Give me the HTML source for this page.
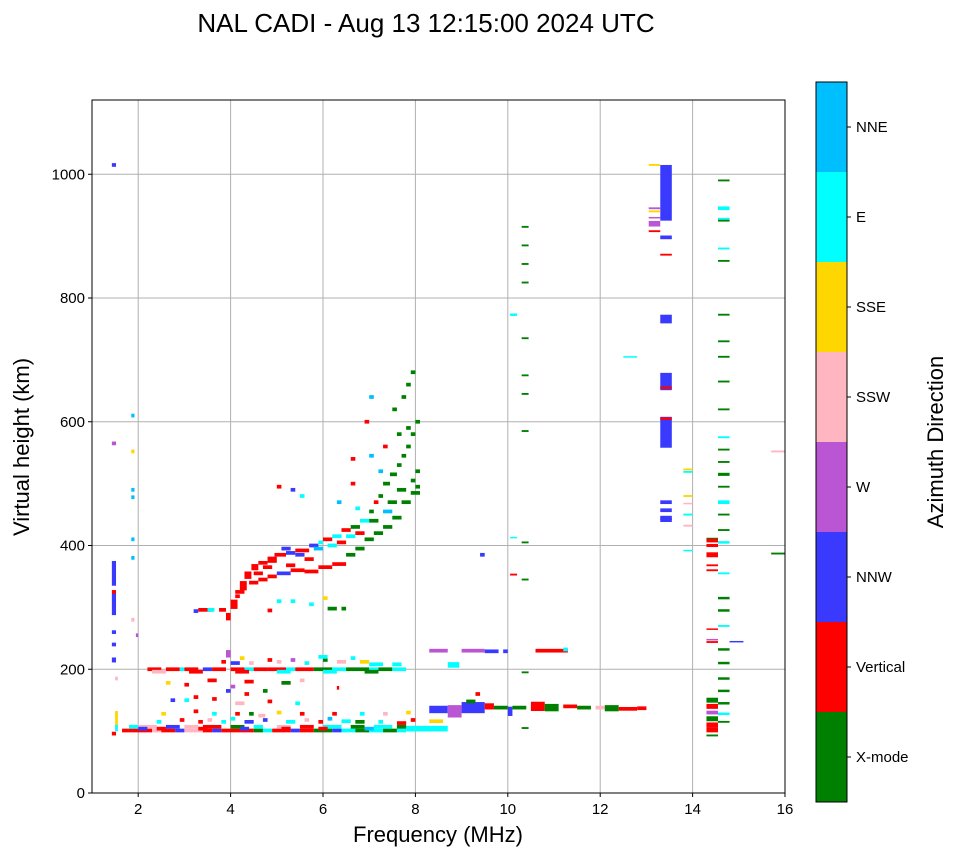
<!DOCTYPE html>
<html><head><meta charset="utf-8"><style>
html,body{margin:0;padding:0;background:#fff;}
svg{display:block;font-family:"Liberation Sans",sans-serif;}
</style></head><body>
<svg id="chart" width="958" height="857" viewBox="0 0 958 857" xmlns="http://www.w3.org/2000/svg">
<text x="426" y="32" font-size="26" text-anchor="middle">NAL CADI - Aug 13 12:15:00 2024 UTC</text>
<g id="grid"></g>
<g id="cells"></g>
<rect x="92" y="100" width="693" height="693" fill="none" stroke="#000" stroke-width="1"/>
<g id="axes"></g>
<text x="438" y="842" font-size="22" text-anchor="middle">Frequency (MHz)</text>
<text transform="translate(29,447) rotate(-90)" font-size="22" text-anchor="middle">Virtual height (km)</text>
<g id="cbar"></g>
<text transform="translate(943,442) rotate(-90)" font-size="22" text-anchor="middle">Azimuth Direction</text>
</svg>
<script>
const directions = ["X-mode","Vertical","NNW","W","SSW","SSE","E","NNE"];
const dirColors = ["#008000","#ff0000","#3a3aff","#ba55d3","#ffb6c1","#ffd700","#00ffff","#00bfff"];
const xTicks = [2,4,6,8,10,12,14,16];
const yTicks = [0,200,400,600,800,1000];
// runs: [freqStart, freqEnd, height km, direction index, thickness km (optional)]
const runs = [
[1.65,1.8,101,1],[1.8,2.3,101,1],[2.3,2.5,101,4],[2.5,2.8,101,1],[2.8,3.0,101,2],[3.0,3.4,101,4],[3.4,3.6,101,1],[3.6,3.8,101,2],[3.8,4.5,101,1],[4.5,4.7,101,0],[4.7,4.9,101,6],[4.9,5.3,101,1],[5.3,5.5,101,2],[5.5,5.8,101,1],[5.8,6.2,101,0],[6.2,6.4,101,2],[6.4,6.7,101,6],[6.7,7.0,101,0],[7.0,7.3,101,6],[7.3,7.6,101,0],[7.6,7.8,101,6],[7.8,8.7,104,6,9],
[1.8,2.0,107,6],[2.0,2.4,107,4],[2.6,2.9,107,2],[3.0,3.3,107,4],[3.4,3.8,107,1],[4.0,4.3,107,0],[4.5,4.7,107,6],[5.0,5.3,107,4],[5.5,5.8,107,1],[6.0,6.4,107,6],[6.6,6.9,107,0],[7.1,7.5,107,6],[7.6,7.8,107,0],
[2.0,2.2,104,2],[2.4,2.6,104,1],[3.3,3.5,104,1],[4.2,4.4,104,2],[5.1,5.3,104,1],[5.9,6.1,104,1],[6.9,7.1,104,7],
[2.4,2.5,115,6],[3.3,3.4,115,1],[3.8,3.9,115,6],[4.3,4.5,115,2],[5.2,5.4,115,6],[5.9,6.0,115,1],[6.4,6.6,116,6],[6.7,6.9,115,0],[7.2,7.3,115,6],[7.6,7.8,113,1],[8.3,8.6,116,5],
[2.9,3.0,118,1],[3.5,3.6,118,4],[4.0,4.1,120,6],[4.7,4.8,118,2],[5.6,5.7,118,4],[6.1,6.2,120,7],[7.9,8.0,118,1],
[2.5,2.6,128,5],[3.2,3.3,132,1],[3.6,3.7,128,6],[4.1,4.2,128,1],[4.4,4.5,128,0],[5.0,5.1,130,5],[5.5,5.6,128,1],[6.2,6.3,128,1],[7.8,7.9,130,5],[7.3,7.4,128,4],[6.8,6.9,128,6],[4.6,4.75,125,4],
[3.0,3.1,150,6],[3.6,3.7,152,1],[4.1,4.3,145,4],[4.8,4.9,148,1],[5.4,5.5,145,6],[2.7,2.8,150,2],[3.9,4.0,165,2],[4.3,4.4,160,1],[4.7,4.8,165,0],[3.2,3.3,155,1],
[2.6,2.7,178,5],[3.0,3.1,175,1],[3.5,3.7,182,1],[4.3,4.5,180,1],[4.0,4.1,172,3],[5.1,5.3,178,0],[6.3,6.35,170,1],[5.5,5.6,182,4],
[2.2,2.5,200,1],[2.6,2.9,200,1],[2.9,3.0,200,6],[3.0,3.3,200,1],[3.4,3.6,200,2],[3.6,3.9,200,1],[4.0,4.3,200,1],[4.3,4.5,200,6],[4.5,4.8,200,1],[4.8,5.2,200,1],[5.2,5.4,200,6],[5.4,5.8,200,1],[5.8,6.2,200,0],[6.2,6.5,200,6],[6.5,7.0,200,0],[7.0,7.2,200,6],[7.2,7.5,200,0],[7.5,7.8,200,6],
[2.3,2.6,196,4],[3.1,3.4,196,1],[4.1,4.4,196,1],[5.0,5.3,196,6],[6.0,6.3,196,6],[6.9,7.2,196,0],
[3.8,3.9,212,1],[4.0,4.2,210,2],[4.4,4.5,210,4],[4.8,4.9,215,1],[5.0,5.1,212,4],[5.3,5.4,215,3],[5.6,5.7,210,6],[6.0,6.1,215,0],[6.3,6.5,212,4],[6.8,7.0,212,5],[7.0,7.3,208,6],[7.5,7.7,208,6],[5.9,6.1,220,6],[6.6,6.7,218,6],[4.2,4.3,218,5],[3.9,4.0,225,3,12],
[3.3,3.6,296,1],[3.2,3.3,294,2],[3.5,3.65,296,6],[3.75,3.9,296,1],[3.9,4.0,285,1,12],[4.0,4.15,305,1,15],[4.1,4.2,318,1],[4.2,4.35,335,1,15],[4.3,4.45,352,1,12],[4.45,4.6,365,1,10],[4.6,4.8,372,1],[4.8,5.0,377,1,10],[4.95,5.2,385,1],[5.2,5.4,388,2],[5.4,5.7,392,1],[5.7,5.9,400,2],[5.9,6.0,405,6],[6.0,6.2,410,1],[6.2,6.4,415,6],[6.4,6.6,425,1],[6.6,6.8,430,0],[6.8,7.0,440,6],[7.0,7.1,455,0],[7.1,7.2,470,1],[7.2,7.3,480,0],[7.3,7.45,500,0],[7.45,7.6,515,0],[7.6,7.7,530,0],[7.7,7.8,545,0],[7.8,7.9,560,0],[7.9,8.0,580,0],[8.0,8.1,600,0],[8.0,8.1,520,0],[8.0,8.1,495,0],[7.9,8.0,505,0],
[4.4,4.6,340,1],[4.6,4.8,345,1],[4.8,5.0,350,1],[5.0,5.3,355,2],[5.3,5.6,360,1],[5.6,5.9,358,1],[5.9,6.2,365,1],[6.2,6.5,370,1],[6.5,6.7,385,0],[6.7,6.9,395,0],[6.9,7.1,410,0],[7.1,7.3,420,0],[7.3,7.5,430,0],[7.5,7.7,445,0],[7.7,7.9,470,0],[7.9,8.1,485,0],
[5.1,5.3,395,2],[5.4,5.6,385,2],[5.6,5.8,378,1],[5.8,6.0,395,7],[6.1,6.3,400,6],[6.3,6.5,405,1],[6.5,6.7,415,6],[6.7,6.9,420,1],[4.7,4.9,365,1],[4.5,4.7,355,1],[5.2,5.4,368,1],[4.1,4.3,325,1],[7.0,7.2,440,0],[7.4,7.6,470,0],[7.6,7.8,490,0],[7.3,7.5,455,7],
[5.0,5.1,495,1],[5.3,5.4,490,2],[5.5,5.6,480,6],[6.3,6.4,470,7],[6.6,6.7,500,1],[6.7,6.8,460,6],[7.0,7.1,545,7],[7.3,7.4,560,1],[7.5,7.6,620,0],[7.7,7.8,640,0],[7.8,7.9,660,0],[7.9,8.0,680,0],[6.9,7.0,600,1],[7.0,7.1,640,7],[6.6,6.7,540,1],[7.2,7.3,520,7],[7.6,7.7,580,0],[7.8,7.9,590,0],
[5.0,5.1,310,6],[5.3,5.4,310,6],[5.7,5.8,305,6],[6.1,6.3,298,0],[6.4,6.5,298,0],[4.8,4.9,295,1],[6.0,6.1,315,5],
[1.43,1.52,355,2,40],[1.43,1.52,305,2,35],[1.43,1.52,325,1],[1.43,1.52,260,2],[1.43,1.52,240,2],[1.43,1.52,215,2,8],[1.43,1.52,565,3],[1.43,1.52,1015,2],[1.43,1.52,96,1],[1.5,1.56,120,5,25],[1.5,1.56,105,6,10],[1.5,1.56,185,4],
[1.85,1.92,610,7],[1.85,1.92,490,7],[1.85,1.92,478,7],[1.85,1.92,380,7],[1.85,1.92,280,4],[1.85,1.92,552,5],[1.85,1.92,410,7],[1.95,2.0,255,3],
[8.3,8.7,230,3],[8.7,8.95,207,6,9],[9.0,9.5,230,3],[9.5,9.8,229,2],[9.9,10.0,229,2],[10.6,11.0,230,1],[11.0,11.3,230,1],[11.2,11.3,232,6],[9.4,9.5,385,2],
[8.3,8.7,135,2,12],[8.7,9.0,132,3,20],[9.0,9.5,138,2,18],[9.5,9.7,140,1,10],[9.7,10.0,138,0],[10.0,10.1,132,2,15],[10.1,10.4,138,0],[10.5,10.8,140,1,15],[10.8,11.1,138,0,12],[11.2,11.5,140,1],[11.5,11.8,138,0],[11.9,12.1,138,4],[12.1,12.4,137,0,10],[12.4,12.8,136,1],[12.8,13.0,137,1],[9.3,9.4,160,1],[9.1,9.3,148,0],
[10.3,10.45,915,0,3],[10.3,10.45,885,0,3],[10.3,10.45,855,0,3],[10.3,10.45,825,0,3],[10.3,10.45,735,0,3],[10.3,10.45,675,0,3],[10.3,10.45,645,0,3],[10.3,10.45,585,0,3],[10.3,10.45,405,0,3],[10.3,10.45,345,0,3],[10.3,10.45,195,0,3],[10.3,10.45,105,0,3],
[10.05,10.2,773,6,4],[10.05,10.2,413,6,2],[10.05,10.2,353,1,3],[12.5,12.8,705,6,2],
[13.3,13.55,970,2,90],[13.3,13.55,898,2,6],[13.3,13.55,870,1,3],[13.3,13.55,766,2,14],[13.3,13.55,665,2,28],[13.3,13.55,655,1,4],[13.3,13.55,583,2,50],[13.3,13.55,605,1,4],[13.3,13.55,470,2,6],[13.3,13.55,457,2,6],[13.3,13.55,443,2,10],[13.3,13.55,443,2,4],
[13.05,13.3,1015,5,3],[13.05,13.3,945,3,3],[13.05,13.3,940,5,3],[13.05,13.3,930,3,2],[13.05,13.3,920,3,9],[13.05,13.3,908,1,3],
[13.8,14.0,523,5,3],[13.8,14.0,519,6,3],[13.8,14.0,480,5,3],[13.8,14.0,468,4,2],[13.8,14.0,450,6,3],[13.8,14.0,432,4,3],[13.8,14.0,392,6,2],
[14.3,14.55,410,0,5],[14.3,14.55,400,1,5],[14.3,14.55,385,1,8],[14.3,14.55,368,1,3],[14.3,14.55,360,1,3],[14.3,14.55,408,1,6],[14.3,14.55,265,1,2],[14.3,14.55,248,3,2],[14.3,14.55,244,1,3],[14.3,14.55,150,0,8],[14.3,14.55,140,1,8],[14.3,14.55,130,3,6],[14.3,14.55,120,0,8],[14.3,14.55,110,1,8],[14.3,14.55,93,0,3],[14.3,14.55,102,1,8],
[14.55,14.8,990,0,3],[14.55,14.8,945,6,6],[14.55,14.8,928,6,3],[14.55,14.8,925,0,3],[14.55,14.8,880,6,3],[14.55,14.8,860,0,3],[14.55,14.8,773,0,3],[14.55,14.8,730,0,3],[14.55,14.8,705,0,3],[14.55,14.8,665,0,3],[14.55,14.8,620,0,3],[14.55,14.8,575,6,3],[14.55,14.8,555,0,3],[14.55,14.8,535,0,3],[14.55,14.8,515,0,5],[14.55,14.8,495,0,3],[14.55,14.8,470,6,6],[14.55,14.8,450,0,3],[14.55,14.8,425,0,3],[14.55,14.8,405,6,4],[14.55,14.8,355,6,3],[14.55,14.8,315,0,4],[14.55,14.8,295,0,4],[14.55,14.8,270,6,3],[14.55,14.8,232,0,4],[14.55,14.8,210,0,4],[14.55,14.8,185,0,4],[14.55,14.8,165,0,4],[14.55,14.8,145,0,4],[14.55,14.8,128,6,4],[14.55,14.8,115,0,3],
[14.8,15.1,245,2,1.5],[15.7,16.0,552,4,3],[15.7,16.0,387,0,3]
];
const svgNS="http://www.w3.org/2000/svg";
const X0=92,X1=785,Y0=793,Y1=100;
function xS(f){return X0+(f-1)*(X1-X0)/15;}
function yS(h){return Y0-h*(Y0-Y1)/1120;}
function mk(tag,attrs,parent){const e=document.createElementNS(svgNS,tag);for(const k in attrs)e.setAttribute(k,attrs[k]);parent.appendChild(e);return e;}
const grid=document.getElementById('grid'),axes=document.getElementById('axes'),cells=document.getElementById('cells'),cbar=document.getElementById('cbar');
xTicks.forEach(t=>{const x=xS(t);
 if(t<16){const g=mk('line',{x1:x,x2:x,y1:Y1,y2:Y0,stroke:'#b0b0b0','stroke-width':1},grid);
 
 }
 const tk=mk('line',{x1:x,x2:x,y1:Y0,y2:Y0+4,stroke:'#000'},axes);
 
 
 const tl=mk('text',{x:x,y:Y0+21,'font-size':15,'text-anchor':'middle'},axes);tl.textContent=t;
 
 
});
yTicks.forEach(t=>{const y=yS(t);
 if(t>0){const g=mk('line',{x1:X0,x2:X1,y1:y,y2:y,stroke:'#b0b0b0','stroke-width':1},grid);
 
 }
 const tk=mk('line',{x1:X0-4,x2:X0,y1:y,y2:y,stroke:'#000'},axes);
 
 
 const tl=mk('text',{x:X0-7,y:y+5,'font-size':15,'text-anchor':'end'},axes);tl.textContent=t;
 
 
});
runs.forEach(r=>{const th=r[4]||6;const x=xS(r[0]),w=xS(r[1])-x;const y=yS(r[2]+th/2),h=yS(r[2]-th/2)-y;
 const c=mk('rect',{x:x,y:y,width:Math.max(w,1),height:Math.max(h,1.5),fill:dirColors[r[3]]},cells);
 
 
});
const CB0=802,CB1=82,segH=(CB0-CB1)/directions.length;
directions.forEach((d,i)=>{const y=CB0-(i+1)*segH;
 const s=mk('rect',{x:816,y:y,width:31,height:segH,fill:dirColors[i]},cbar);
 
 
 const tk=mk('line',{x1:847,x2:851,y1:y+segH/2,y2:y+segH/2,stroke:'#000'},cbar);
 
 
 const tl=mk('text',{x:856,y:y+segH/2+5,'font-size':15},cbar);tl.textContent=d;
 
 
});
const fr=mk('rect',{x:816,y:CB1,width:31,height:CB0-CB1,fill:'none',stroke:'#000','stroke-width':1},cbar);


</script>
</body></html>
